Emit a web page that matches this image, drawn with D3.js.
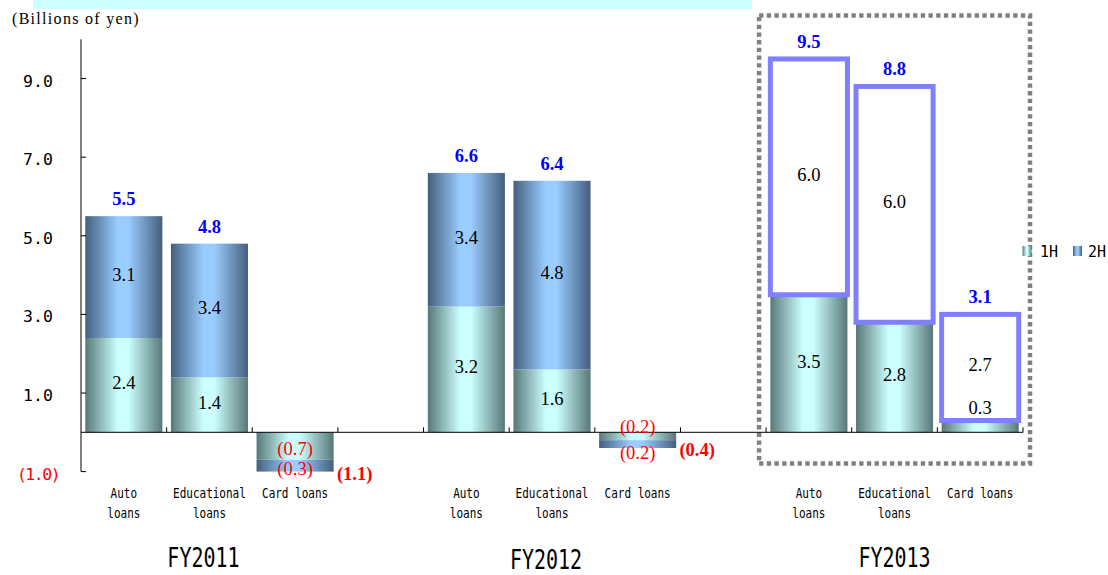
<!DOCTYPE html>
<html>
<head>
<meta charset="utf-8">
<script src="https://cdn.jsdelivr.net/npm/d3@7"></script>
<style>
  html, body { margin: 0; padding: 0; background: #fff; }
  svg { display: block; }
</style>
</head>
<body>
<svg id="chart" width="1108" height="575"></svg>
<script>
// ---- data ----------------------------------------------------------------
const years = ["FY2011", "FY2012", "FY2013"];
const loanTypes = ["Auto loans", "Educational loans", "Card loans"];
const loanLabelLines = [["Auto", "loans"], ["Educational", "loans"], ["Card loans"]];
const seriesNames = ["1H", "2H"];
// one value per (year, loan type), in year order
const firstHalf  = [2.4, 1.4, -0.7,  3.2, 1.6, -0.2,  3.5, 2.8, 0.3];
const secondHalf = [3.1, 3.4, -0.3,  3.4, 4.8, -0.2,  6.0, 6.0, 2.7];
const totals     = [5.5, 4.8, -1.1,  6.6, 6.4, -0.4,  9.5, 8.8, 3.1];
const forecastYears = ["FY2013"];
const yTicks = [9, 7, 5, 3, 1, -1];

// ---- setup ---------------------------------------------------------------
const svg = d3.select("#chart");
const defs = svg.append("defs");

function cylinder(id, dark, light) {
  const g = defs.append("linearGradient").attr("id", id)
    .attr("x1", "0%").attr("x2", "100%").attr("y1", "0%").attr("y2", "0%");
  g.append("stop").attr("offset", "0%").attr("stop-color", dark);
  g.append("stop").attr("offset", "42%").attr("stop-color", light);
  g.append("stop").attr("offset", "56%").attr("stop-color", light);
  g.append("stop").attr("offset", "100%").attr("stop-color", dark);
}
cylinder("grad1H", "#587878", "#ccffff");
cylinder("grad2H", "#455f7d", "#99ccff");
const fills = { "1H": "url(#grad1H)", "2H": "url(#grad2H)" };

// slots: three loan types per year, an empty slot between years
const slots = [];
years.forEach((yr, yi) => {
  loanTypes.forEach(t => slots.push(yr + "|" + t));
  if (yi < years.length - 1) slots.push("gap|" + yr);
});

const x = d3.scaleBand().domain(slots).range([81, 1023]).padding(0);
const y = d3.scaleLinear().domain([-1, 10]).range([471.6, 39.3]);
const barW = x.bandwidth() * 0.9;

const rows = [];
years.forEach((yr, yi) => loanTypes.forEach((t, ti) => {
  const i = yi * loanTypes.length + ti;
  rows.push({ year: yr, type: t, ti, key: yr + "|" + t,
              h1: firstHalf[i], h2: secondHalf[i], total: totals[i],
              forecast: forecastYears.includes(yr) });
}));

const fmt = v => v < 0 ? "(" + Math.abs(v).toFixed(1) + ")" : v.toFixed(1);
const serif = "'Liberation Serif', 'Times New Roman', serif";
const mono = "'DejaVu Sans Mono', 'Liberation Mono', monospace";

// light header strip
svg.append("rect").attr("x", 33).attr("y", 0).attr("width", 719).attr("height", 9)
  .attr("fill", "#ccffff");

// unit caption
svg.append("text").attr("x", 12).attr("y", 24)
  .attr("font-family", serif).attr("font-size", 16).attr("letter-spacing", 1.3)
  .attr("fill", "#000").text("(Billions of yen)");

// dotted frame around the forecast year
const fy = forecastYears[0];
const fFirst = x(fy + "|" + loanTypes[0]);
const fLast = x(fy + "|" + loanTypes[loanTypes.length - 1]) + x.bandwidth();
svg.append("rect")
  .attr("x", fFirst - 7).attr("y", 15.5)
  .attr("width", fLast - fFirst + 14).attr("height", y(-1) - 15.5 - 8)
  .attr("fill", "none").attr("stroke", "#808080").attr("stroke-width", 4.5)
  .attr("stroke-dasharray", "4.3,3.4");

// ---- bars ----------------------------------------------------------------
const barG = svg.append("g");
rows.forEach(r => {
  const bx = x(r.key) + (x.bandwidth() - barW) / 2;
  const s1 = [0, r.h1], s2 = [r.h1, r.h1 + r.h2];
  const rectFor = s => ({ top: Math.min(y(s[0]), y(s[1])), bot: Math.max(y(s[0]), y(s[1])) });
  const a = rectFor(s1), b = rectFor(s2);
  barG.append("rect").attr("x", bx).attr("y", a.top).attr("width", barW)
    .attr("height", a.bot - a.top).attr("fill", fills["1H"]);
  if (r.forecast) {
    barG.append("rect").attr("x", bx).attr("y", b.top).attr("width", barW)
      .attr("height", b.bot - b.top).attr("fill", "#fff")
      .attr("stroke", "#8080ff").attr("stroke-width", 5);
  } else {
    barG.append("rect").attr("x", bx).attr("y", b.top).attr("width", barW)
      .attr("height", b.bot - b.top).attr("fill", fills["2H"]);
  }
  r.seg = [{ v: r.h1, ...a, first: true }, { v: r.h2, ...b, first: false }];
});

// ---- axes ----------------------------------------------------------------
const axisG = svg.append("g").attr("stroke", "#000").attr("stroke-width", 1);
axisG.append("line").attr("x1", 81).attr("x2", 81).attr("y1", y(10)).attr("y2", y(-1));
yTicks.forEach(t => axisG.append("line").attr("x1", 81).attr("x2", 86)
  .attr("y1", y(t)).attr("y2", y(t)));
axisG.append("line").attr("x1", 81).attr("x2", 1023).attr("y1", y(0)).attr("y2", y(0));
const bounds = slots.map(s => x(s)).concat([x.range()[1]]);
bounds.slice(1).forEach(bx => axisG.append("line").attr("x1", bx).attr("x2", bx)
  .attr("y1", y(0)).attr("y2", y(0) - 5));

svg.append("g").selectAll("text").data(yTicks).join("text")
  .attr("x", 38).attr("y", d => y(d) + 8)
  .attr("text-anchor", "middle")
  .attr("font-family", mono).attr("font-size", 16.5)
  .attr("letter-spacing", d => d < 0 ? -1.5 : 0)
  .attr("fill", d => d < 0 ? "#ff0000" : "#000")
  .text(d => fmt(d));

// ---- value labels --------------------------------------------------------
const labG = svg.append("g").attr("font-family", serif);
rows.forEach(r => {
  const cx = x(r.key) + x.bandwidth() / 2;
  r.seg.forEach(s => {
    const h = s.bot - s.top, c = (s.top + s.bot) / 2;
    let by;
    if (s.v >= 0) by = h < 16 ? s.top - 7 : c + 4;
    else if (h < 10) by = s.first ? s.top + 1 : s.bot + 11;
    else by = c + 9;
    labG.append("text").attr("x", cx).attr("y", by).attr("text-anchor", "middle")
      .attr("font-size", 18.5).attr("fill", s.v < 0 ? "#ff0000" : "#000")
      .text(fmt(s.v));
  });
  const end = r.h1 + r.h2;
  if (r.total >= 0) {
    labG.append("text").attr("x", cx).attr("y", y(end) - 11).attr("text-anchor", "middle")
      .attr("font-size", 18.5).attr("font-weight", "bold").attr("fill", "#0000ff")
      .text(fmt(r.total));
  } else {
    labG.append("text").attr("x", x(r.key) + x.bandwidth() - 1).attr("y", y(end) + 8)
      .attr("text-anchor", "start")
      .attr("font-size", 18.5).attr("font-weight", "bold").attr("fill", "#ff0000")
      .text(fmt(r.total));
  }
});

// ---- category labels -----------------------------------------------------
function gothic(g, tx, ty, txt, size, sy) {
  g.append("text").attr("transform", `translate(${tx},${ty}) scale(1,${sy})`)
    .attr("text-anchor", "middle").attr("font-family", mono)
    .attr("font-size", size).attr("fill", "#000").text(txt);
}
const catG = svg.append("g");
rows.forEach(r => {
  const cx = x(r.key) + x.bandwidth() / 2;
  loanLabelLines[r.ti].forEach((ln, li) => gothic(catG, cx, 498 + li * 20, ln, 11, 1.25));
});
years.forEach((yr, yi) => {
  const mid = x(yr + "|" + loanTypes[1]) + x.bandwidth() / 2;
  gothic(catG, mid - (yi < 2 ? 6 : 0), yi === 1 ? 569 : 567, yr, 20, 1.3);
});

// ---- legend --------------------------------------------------------------
const lg = svg.append("g");
[{ n: seriesNames[0], mx: 1022.5, tx: 1040 }, { n: seriesNames[1], mx: 1073, tx: 1088 }]
  .forEach(d => {
    lg.append("rect").attr("x", d.mx).attr("y", 246).attr("width", 9).attr("height", 10)
      .attr("fill", fills[d.n]);
    lg.append("text").attr("transform", `translate(${d.tx},256.5) scale(1,1.1)`)
      .attr("font-family", mono).attr("font-size", 15).attr("fill", "#000").text(d.n);
  });
</script>
</body>
</html>
